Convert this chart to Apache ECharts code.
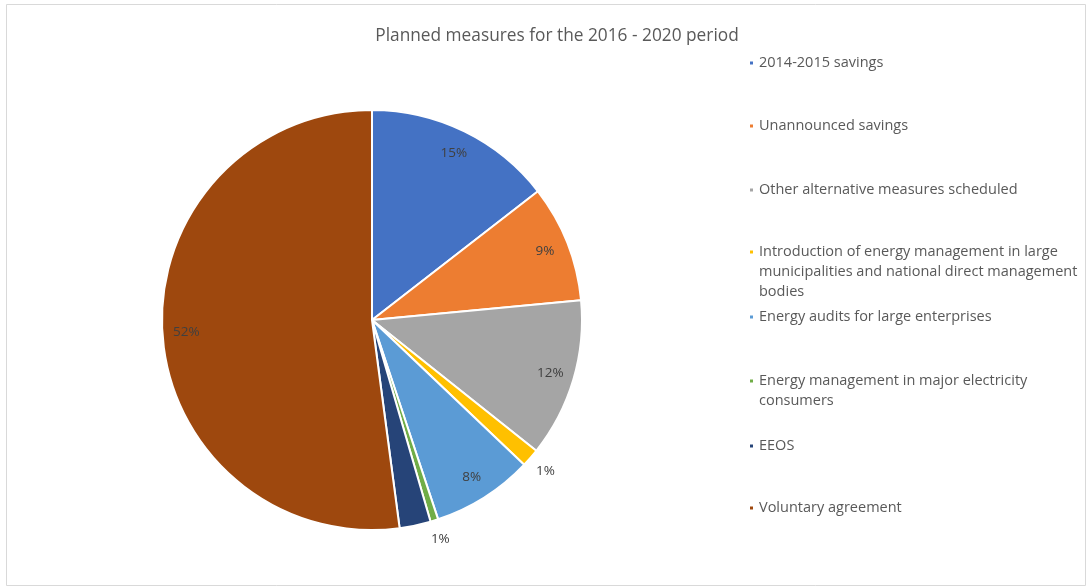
<!DOCTYPE html>
<html>
<head>
<meta charset="utf-8">
<script src="https://cdn.jsdelivr.net/npm/echarts@6/dist/echarts.min.js"></script>
<style>
html,body{margin:0;padding:0;background:#fff;}
#chart{width:1089px;height:587px;}
</style>
</head>
<body>
<div id="chart"></div>
<script>
const categories = [
  "2014-2015 savings",
  "Unannounced savings",
  "Other alternative measures scheduled",
  "Introduction of energy management in large municipalities and national direct management bodies",
  "Energy audits for large enterprises",
  "Energy management in major electricity consumers",
  "EEOS",
  "Voluntary agreement"
];
const values = [14.5, 9.0, 12.2, 1.4, 7.8, 0.6, 2.4, 52.1];
const colors = ["#4472C4", "#ED7D31", "#A5A5A5", "#FFC000", "#5B9BD5", "#70AD47", "#264478", "#9E480E"];
const labelPlacement = ["in", "in", "in", "out", "in", "out", "none", "in"];
const titleText = "Planned measures for the 2016 - 2020 period";

const FONT = "'Open Sans', 'DejaVu Sans', sans-serif";
const LEG_SIZE = 14.5, LEG_LH = 20, LEG_W = 322;
const cx = 372, cy = 320, R = 210;

// word-wrap helper for legend text
const ctx = document.createElement('canvas').getContext('2d');
ctx.font = LEG_SIZE + "px 'Open Sans'";
function wrap(text) {
  const words = text.split(' ');
  const lines = [];
  let cur = '';
  words.forEach(w => {
    const t = cur ? cur + ' ' + w : w;
    if (cur && ctx.measureText(t).width > LEG_W) { lines.push(cur); cur = w; }
    else cur = t;
  });
  if (cur) lines.push(cur);
  return lines;
}

const chart = echarts.init(document.getElementById('chart'), null, {renderer: 'canvas'});

const baseData = categories.map((c, i) => ({name: c, value: values[i], itemStyle: {color: colors[i]}}));
const fmt = p => Math.round(p.percent) + '%';

function labelSeries(kind, r0, r1) {
  return {
    type: 'pie', silent: true, legendHoverLink: false,
    center: [cx, cy], radius: [r0, r1], startAngle: 90, clockwise: true,
    avoidLabelOverlap: false, minAngle: 0,
    itemStyle: {color: 'rgba(0,0,0,0)', borderWidth: 0},
    emphasis: {disabled: true},
    label: {show: true, position: 'inside', formatter: fmt, color: '#404040', fontSize: 13.5, fontFamily: FONT},
    labelLine: {show: false},
    data: categories.map((c, i) => ({
      name: c, value: values[i],
      label: {show: labelPlacement[i] === kind}
    }))
  };
}

// first-line positions of legend entries
const firstLineTops = [48, 111, 175, 237, 302, 366, 431, 493];
const legends = categories.map((c, i) => {
  const lines = wrap(c);
  const n = lines.length;
  // blank lines before the text keep the marker aligned with the first line
  const padded = new Array(n - 1).fill(' ').concat(lines);
  return {
    data: [c], orient: 'vertical', left: 743, top: firstLineTops[i] - LEG_LH * (n - 1),
    icon: 'rect', itemWidth: 5, itemHeight: 5, itemGap: 0,
    formatter: () => padded.join('\n'),
    textStyle: {color: '#595959', fontSize: LEG_SIZE, fontFamily: FONT, lineHeight: LEG_LH},
    selectedMode: false
  };
});

chart.setOption({
  backgroundColor: '#ffffff',
  animation: false,
  color: colors,
  title: {
    text: titleText, left: 552, top: 23, textAlign: 'center',
    textStyle: {color: '#595959', fontSize: 17.3, fontWeight: 'normal', fontFamily: FONT}
  },
  legend: legends,
  graphic: [{
    type: 'rect', shape: {x: 6.5, y: 4.5, width: 1079, height: 581},
    style: {fill: 'none', stroke: '#d9d9d9', lineWidth: 1}, silent: true, z: -1
  }],
  series: [
    {
      type: 'pie', center: [cx, cy], radius: [0, R], startAngle: 90, clockwise: true,
      avoidLabelOverlap: false, minAngle: 0,
      itemStyle: {borderColor: '#ffffff', borderWidth: 2},
      label: {show: false}, labelLine: {show: false},
      emphasis: {scale: false},
      data: baseData
    },
    labelSeries('in', 166, 200),
    labelSeries('out', 214, 240)
  ]
});
</script>
</body>
</html>
